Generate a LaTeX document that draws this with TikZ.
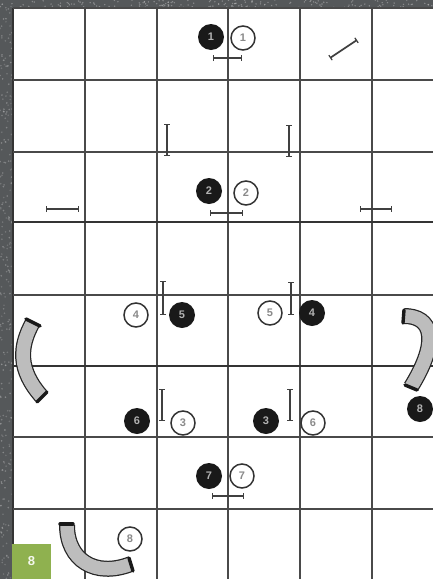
\documentclass[tikz,border=0pt]{standalone}
\usepackage{fontspec}
\setmainfont{Liberation Sans}
\definecolor{edgegray}{HTML}{55585A}
\definecolor{gridline}{HTML}{4A4A4A}
\definecolor{tunnelfill}{HTML}{BDBDBD}
\definecolor{badgegreen}{HTML}{8FB14F}
\definecolor{digitgray}{HTML}{8A8A8A}
\usetikzlibrary{arrows.meta}
\tikzset{
  gridrule/.style={draw=gridline,line width=1.4pt},
  heavyrule/.style={draw=gridline!70!black,line width=1.8pt},
  jumpbar/.style={draw=black!75,line width=1.2pt,{Bar[width=6pt,line width=1.2pt]}-{Bar[width=6pt,line width=1.2pt]}},
  obliquebar/.style={jumpbar,line width=1.7pt},
  blackdot/.style={circle,fill=black!90,draw=none,minimum size=26pt,inner sep=0pt,text=black!30,font=\bfseries\fontsize{11}{11}\selectfont},
  whitedot/.style={circle,fill=white,draw=black!80,line width=1.5pt,minimum size=24pt,inner sep=0pt,text=digitgray,font=\bfseries\fontsize{11}{11}\selectfont},
  tunnelout/.style={draw=black!85,line width=16pt,line cap=butt},
  tunnelin/.style={draw=tunnelfill,line width=13.5pt,line cap=butt},
  tunnelend/.style={draw=black!90,line width=3.4pt,line cap=round},
  pagebadge/.style={fill=badgegreen,draw=none,text=white!90!badgegreen,font=\bfseries\fontsize{13}{13}\selectfont,inner sep=0pt}
}
\begin{document}
\begin{tikzpicture}[x=1pt,y=-1pt]
\useasboundingbox (0,0) rectangle (433,579);
% textured surround
\fill[edgegray] (0,0) rectangle (433,579);
\pgfmathsetseed{7}
\foreach \i in {1,...,260}{
  \pgfmathsetmacro{\px}{rnd*13}
  \pgfmathsetmacro{\py}{rnd*579}
  \pgfmathsetmacro{\ps}{35+rnd*40}
  \fill[white,opacity=0.004*\ps] (\px,\py) circle (0.9pt);
}
\foreach \i in {1,...,180}{
  \pgfmathsetmacro{\px}{rnd*433}
  \pgfmathsetmacro{\py}{rnd*8}
  \fill[white,opacity=0.3] (\px,\py) circle (0.8pt);
}
\fill[white] (13,8) rectangle (433,579);
% grid
\foreach \gx in {85,157,228,300,372} \draw[gridrule] (\gx,8) -- (\gx,579);
\draw[heavyrule] (13,8) -- (13,579);
\draw[gridrule] (13,8) -- (433,8);
\foreach \gy in {80,152,437,509} \draw[gridrule] (13,\gy) -- (433,\gy);
\draw[heavyrule] (13,222) -- (433,222);
\draw[gridrule] (13,295) -- (433,295);
\draw[heavyrule] (13,366) -- (433,366);
% jump bars
\draw[jumpbar] (213,58) -- (242,58);
\draw[obliquebar] (330,58) -- (357,40);
\draw[jumpbar] (167,124) -- (167,156);
\draw[jumpbar] (289,125) -- (289,157);
\draw[jumpbar] (210,213) -- (243,213);
\draw[jumpbar] (46,209) -- (79,209);
\draw[jumpbar] (360,209) -- (392,209);
\draw[jumpbar] (163,281) -- (163,315);
\draw[jumpbar] (291,282) -- (291,315);
\draw[jumpbar] (162,389) -- (162,421);
\draw[jumpbar] (290,389) -- (290,421);
\draw[jumpbar] (212,496) -- (244,496);
% tunnels
\foreach \st in {tunnelout,tunnelin}{
  \draw[\st] (33,322) .. controls (19,347) and (18,370) .. (42,397);
  \draw[\st] (67,525) .. controls (67,560) and (95,578) .. (131,564);
  \draw[\st] (404,316) .. controls (432,316) and (440,340) .. (411,387);
}
\draw[tunnelend] (26,319) -- (40,326);
\draw[tunnelend] (37,402) -- (47,392);
\draw[tunnelend] (60,524) -- (73,524);
\draw[tunnelend] (129,558) -- (133,571);
\draw[tunnelend] (404,310) -- (403,323);
\draw[tunnelend] (405,385) -- (417,390);
% numbered markers
\node[blackdot] (b1) at (211,37) {1};
\node[whitedot] (w1) at (243,38) {1};
\node[blackdot] (b2) at (209,191) {2};
\node[whitedot] (w2) at (246,193) {2};
\node[whitedot] (w4) at (136,315) {4};
\node[blackdot] (b5) at (182,315) {5};
\node[whitedot] (w5) at (270,313) {5};
\node[blackdot] (b4) at (312,313) {4};
\node[blackdot] (b6) at (137,421) {6};
\node[whitedot] (w3) at (183,423) {3};
\node[blackdot] (b3) at (266,421) {3};
\node[whitedot] (w6) at (313,423) {6};
\node[blackdot] (b7) at (209,476) {7};
\node[whitedot] (w7) at (242,476) {7};
\node[blackdot] (b8) at (420,409) {8};
\node[whitedot] (w8) at (130,539) {8};
% page badge
\node[pagebadge,minimum width=39pt,minimum height=35pt] (pg) at (31.5,561.5) {8};
\end{tikzpicture}
\end{document}
